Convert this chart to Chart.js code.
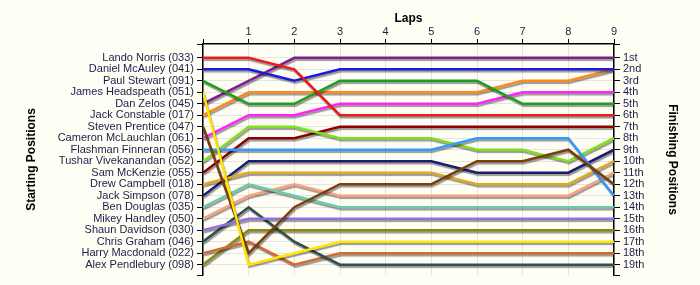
<!DOCTYPE html>
<html>
<head>
<meta charset="utf-8">
<title>Lap Chart</title>
<script src="https://cdn.jsdelivr.net/npm/chart.js@4.4.1/dist/chart.umd.min.js"></script>
<style>
    html, body { margin: 0; padding: 0; background: #FFFEF4; }
    canvas { display: block; }
</style>
</head>
<body>
<canvas id="lapChart" width="700" height="285"></canvas>
<script>
// Vueltas (eje X)
const laps = [0, 1, 2, 3, 4, 5, 6, 7, 8, 9];

// Pilotos en orden de salida
const drivers = [
    'Lando Norris (033)', 'Daniel McAuley (041)', 'Paul Stewart (091)', 'James Headspeath (051)',
    'Dan Zelos (045)', 'Jack Constable (017)', 'Steven Prentice (047)', 'Cameron McLauchlan (061)',
    'Flashman Finneran (056)', 'Tushar Vivekanandan (052)', 'Sam McKenzie (055)', 'Drew Campbell (018)',
    'Jack Simpson (078)', 'Ben Douglas (035)', 'Mikey Handley (050)', 'Shaun Davidson (030)',
    'Chris Graham (046)', 'Harry Macdonald (022)', 'Alex Pendlebury (098)'
];

// Etiquetas de posición final
const finishLabels = ['1st', '2nd', '3rd', '4th', '5th', '6th', '7th', '8th', '9th', '10th',
    '11th', '12th', '13th', '14th', '15th', '16th', '17th', '18th', '19th'];

// Posición por vuelta de cada piloto
const norris      = [1, 1, 2, 6, 6, 6, 6, 6, 6, 6];
const mcauley     = [2, 2, 3, 2, 2, 2, 2, 2, 2, 2];
const stewart     = [3, 5, 5, 3, 3, 3, 3, 5, 5, 5];
const headspeath  = [4, 19, 18, 17, 17, 17, 17, 17, 17, 17];
const zelos       = [5, 3, 1, 1, 1, 1, 1, 1, 1, 1];
const constable   = [6, 4, 4, 4, 4, 4, 4, 3, 3, 2];
const prentice    = [7, 18, 14, 12, 12, 12, 10, 10, 9, 12];
const mclauchlan  = [8, 6, 6, 5, 5, 5, 5, 4, 4, 4];
const finneran    = [9, 9, 9, 9, 9, 9, 8, 8, 8, 13];
const vivekanandan = [10, 7, 7, 8, 8, 8, 9, 9, 10, 8];
const mckenzie    = [11, 8, 8, 7, 7, 7, 7, 7, 7, 7];
const campbell    = [12, 11, 11, 11, 11, 11, 12, 12, 12, 10];
const simpson     = [13, 10, 10, 10, 10, 10, 11, 11, 11, 9];
const douglas     = [14, 12, 13, 14, 14, 14, 14, 14, 14, 14];
const handley     = [15, 13, 12, 13, 13, 13, 13, 13, 13, 11];
const davidson    = [16, 15, 15, 15, 15, 15, 15, 15, 15, 15];
const graham      = [17, 14, 17, 19, 19, 19, 19, 19, 19, 19];
const macdonald   = [18, 17, 19, 18, 18, 18, 18, 18, 18, 18];
const pendlebury  = [19, 16, 16, 16, 16, 16, 16, 16, 16, 16];

const series = [norris, mcauley, stewart, headspeath, zelos, constable, prentice, mclauchlan,
    finneran, vivekanandan, mckenzie, campbell, simpson, douglas, handley, davidson,
    graham, macdonald, pendlebury];

const colors = ['#EE1C1C', '#1A1AE0', '#1E9E1E', '#FFE600', '#7E1E8E', '#FF8A1A', '#7A3E0A',
    '#FF22FF', '#3399FF', '#80E020', '#8B0000', '#E0A820', '#1C1C70', '#6CCBAA', '#F8A080',
    '#9370DB', '#2F4F4F', '#D06A30', '#8A8A10'];

const bgColor = '#FFFEF4';
const textColor = '#221A4A';

// Fondo crema
const backgroundPlugin = {
    id: 'background',
    beforeDraw(chart) {
        const ctx = chart.ctx;
        ctx.save();
        ctx.fillStyle = bgColor;
        ctx.fillRect(0, 0, chart.width, chart.height);
        ctx.restore();
    }
};

// Sombra de las líneas
const shadowPlugin = {
    id: 'lineShadow',
    beforeDatasetDraw(chart) {
        const ctx = chart.ctx;
        ctx.save();
        ctx.shadowColor = 'rgba(0, 0, 0, 0.4)';
        ctx.shadowOffsetX = 1;
        ctx.shadowOffsetY = 2;
        ctx.shadowBlur = 1;
    },
    afterDatasetDraw(chart) {
        chart.ctx.restore();
    }
};

const posTicks = [-0.2, ...drivers.map((d, i) => i + 1), 19.9];

function gridColor(ctx) {
    if (ctx.tick && (ctx.tick.value < 0.5 || ctx.tick.value > 19.5)) return 'rgba(0,0,0,0)';
    return '#E4E4E4';
}

const datasets = series.map((data, i) => ({
    label: drivers[i],
    data: laps.map((lap, j) => ({ x: lap, y: data[j] })),
    borderColor: colors[i],
    backgroundColor: colors[i],
    borderWidth: 2.5,
    pointRadius: 0,
    tension: 0,
    fill: false
}));

const baseFont = { family: '"Liberation Sans", Arial, sans-serif', size: 11 };
const titleFont = { family: '"Liberation Sans", Arial, sans-serif', size: 12, weight: 'bold' };

new Chart(document.getElementById('lapChart'), {
    type: 'line',
    data: { datasets },
    plugins: [backgroundPlugin, shadowPlugin],
    options: {
        responsive: false,
        devicePixelRatio: 1,
        animation: false,
        layout: { padding: { top: 8, left: 24, right: 20, bottom: 10 } },
        plugins: {
            legend: { display: false },
            tooltip: { enabled: false }
        },
        scales: {
            x: {
                type: 'linear',
                position: 'top',
                min: 0,
                max: 9,
                afterBuildTicks: s => { s.ticks = laps.map(v => ({ value: v })); },
                afterFit: s => { s.height = 36; },
                ticks: {
                    color: textColor,
                    font: baseFont,
                    padding: 0,
                    callback: v => (v === 0 ? '' : v)
                },
                grid: { color: '#E4E4E4', tickColor: '#000', tickLength: 5 },
                border: { color: '#000', width: 1.5 },
                title: { display: true, text: 'Laps', color: '#000', font: titleFont, padding: { top: 3, bottom: 4 } }
            },
            y: {
                type: 'linear',
                position: 'left',
                reverse: true,
                min: -0.2,
                max: 19.9,
                afterBuildTicks: s => { s.ticks = posTicks.map(v => ({ value: v })); },
                afterFit: s => { s.width = 179; },
                ticks: {
                    color: textColor,
                    font: baseFont,
                    padding: 3,
                    autoSkip: false,
                    callback: v => drivers[v - 1] || ''
                },
                grid: { color: gridColor, tickColor: '#000', tickLength: 6 },
                border: { color: '#000', width: 1.5 },
                title: { display: true, text: 'Starting Positions', color: '#000', font: titleFont, padding: 0 }
            },
            y2: {
                type: 'linear',
                position: 'right',
                reverse: true,
                min: -0.2,
                max: 19.9,
                afterBuildTicks: s => { s.ticks = posTicks.map(v => ({ value: v })); },
                afterFit: s => { s.width = 66; },
                ticks: {
                    color: textColor,
                    font: baseFont,
                    padding: 3,
                    autoSkip: false,
                    callback: v => finishLabels[v - 1] || ''
                },
                grid: { drawOnChartArea: false, tickColor: '#000', tickLength: 6 },
                border: { color: '#000', width: 1.5 },
                title: { display: true, text: 'Finishing Positions', color: '#000', font: titleFont, padding: 0 }
            }
        }
    }
});
</script>
</body>
</html>
